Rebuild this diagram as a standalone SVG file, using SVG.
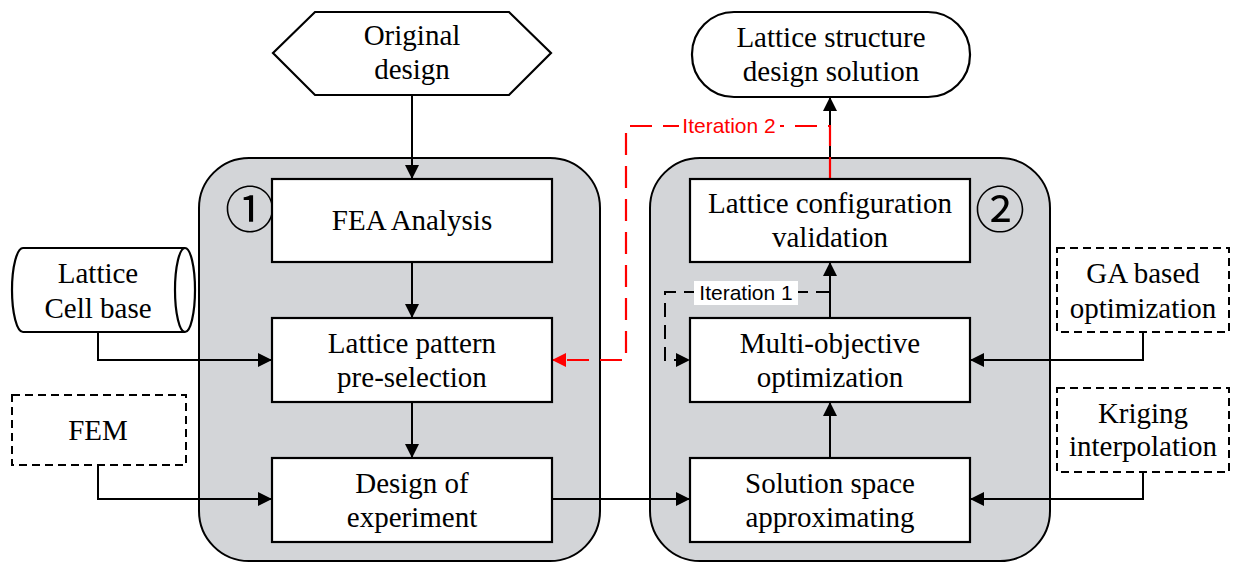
<svg xmlns="http://www.w3.org/2000/svg" width="1236" height="563" viewBox="0 0 1236 563">
<defs>
<marker id="ah" markerWidth="14" markerHeight="14" refX="14" refY="7" orient="auto" markerUnits="userSpaceOnUse"><path d="M0,0 L14,7 L0,14 Z" fill="#000"/></marker>
<marker id="ahr" markerWidth="14" markerHeight="14" refX="14" refY="7" orient="auto" markerUnits="userSpaceOnUse"><path d="M0,0 L14,7 L0,14 Z" fill="#ff0000"/></marker>
<style>
.ctn{fill:#d3d5d8;stroke:#000;stroke-width:2}
.box{fill:#fff;stroke:#000;stroke-width:2.2}
.dbox{fill:#fff;stroke:#000;stroke-width:2;stroke-dasharray:8 5}
.t{font-family:"Liberation Serif","Times New Roman",serif;font-size:29px;fill:#000;text-anchor:middle}
.num{font-family:"Noto Sans CJK SC","DejaVu Sans",sans-serif;font-size:50px;fill:#000;text-anchor:middle}
.ln{fill:none;stroke:#000;stroke-width:2}
.it{font-family:"Liberation Sans",Arial,sans-serif;font-size:21px;text-anchor:middle}
</style>
</defs>
<rect width="1236" height="563" fill="#fff"/>
<g id="container1"><rect class="ctn" x="199" y="158" width="401" height="403" rx="50"/><text class="num" x="250" y="228">①</text></g>
<g id="container2"><rect class="ctn" x="650" y="158" width="400" height="403" rx="50"/><text class="num" x="1000" y="228">②</text></g>
<g id="connectors">
<path class="ln" d="M412,95 V179" marker-end="url(#ah)"/>
<path class="ln" d="M412,262 V318" marker-end="url(#ah)"/>
<path class="ln" d="M412,402 V458" marker-end="url(#ah)"/>
<path class="ln" d="M98,332 V360 H272" marker-end="url(#ah)"/>
<path class="ln" d="M98,465 V499 H272" marker-end="url(#ah)"/>
<path class="ln" d="M552,499 H690" marker-end="url(#ah)"/>
<path class="ln" d="M830,458 V402" marker-end="url(#ah)"/>
<path class="ln" d="M830,318 V262" marker-end="url(#ah)"/>
<path class="ln" d="M830,179 V97" marker-end="url(#ah)"/>
<path class="ln" d="M1143,332 V360 H970" marker-end="url(#ah)"/>
<path class="ln" d="M1143,472 V499 H970" marker-end="url(#ah)"/>
<path d="M830,179 V126 H626 V360 H552" fill="none" stroke="#ff0000" stroke-width="2.2" stroke-dasharray="22 11" marker-end="url(#ahr)"/>
<rect x="679" y="114" width="101" height="24" fill="#fff"/>
<text class="it" x="729" y="133" fill="#ff0000">Iteration 2</text>
<path d="M830,292 H665 V360 H690" fill="none" stroke="#000" stroke-width="2" stroke-dasharray="14 8" marker-end="url(#ah)"/>
<rect x="694" y="281" width="104" height="24" fill="#fff"/>
<text class="it" x="746" y="300" fill="#000">Iteration 1</text>
</g>
<g id="original"><path class="box" d="M273,53 L315,12 H509 L551,53 L509,95 H315 Z"/><text class="t" x="412" y="45">Original</text><text class="t" x="412" y="79">design</text></g>
<g id="solution"><rect class="box" x="692" y="12" width="278" height="85" rx="42"/><text class="t" x="831" y="47">Lattice structure</text><text class="t" x="831" y="81">design solution</text></g>
<g id="fea"><rect class="box" x="272" y="179" width="280" height="83"/><text class="t" x="412" y="230">FEA Analysis</text></g>
<g id="pattern"><rect class="box" x="272" y="318" width="280" height="84"/><text class="t" x="412" y="353">Lattice pattern</text><text class="t" x="412" y="387">pre-selection</text></g>
<g id="doe"><rect class="box" x="272" y="458" width="280" height="84"/><text class="t" x="412" y="493">Design of</text><text class="t" x="412" y="527">experiment</text></g>
<g id="validation"><rect class="box" x="690" y="179" width="280" height="83"/><text class="t" x="830" y="213">Lattice configuration</text><text class="t" x="830" y="247">validation</text></g>
<g id="multi"><rect class="box" x="690" y="318" width="280" height="84"/><text class="t" x="830" y="353">Multi-objective</text><text class="t" x="830" y="387">optimization</text></g>
<g id="space"><rect class="box" x="690" y="458" width="280" height="84"/><text class="t" x="830" y="493">Solution space</text><text class="t" x="830" y="527">approximating</text></g>
<g id="cellbase"><path class="box" d="M185,248 H23 A11,42 0 0 0 23,332 H185"/><ellipse class="box" cx="185" cy="290" rx="10" ry="42"/><text class="t" x="98" y="283">Lattice</text><text class="t" x="98" y="318">Cell base</text></g>
<g id="fem"><rect class="dbox" x="12" y="395" width="174" height="70"/><text class="t" x="98" y="440">FEM</text></g>
<g id="ga"><rect class="dbox" x="1057" y="248" width="172" height="84"/><text class="t" x="1143" y="283">GA based</text><text class="t" x="1143" y="318">optimization</text></g>
<g id="kriging"><rect class="dbox" x="1057" y="388" width="172" height="84"/><text class="t" x="1143" y="423">Kriging</text><text class="t" x="1143" y="456">interpolation</text></g>
</svg>
